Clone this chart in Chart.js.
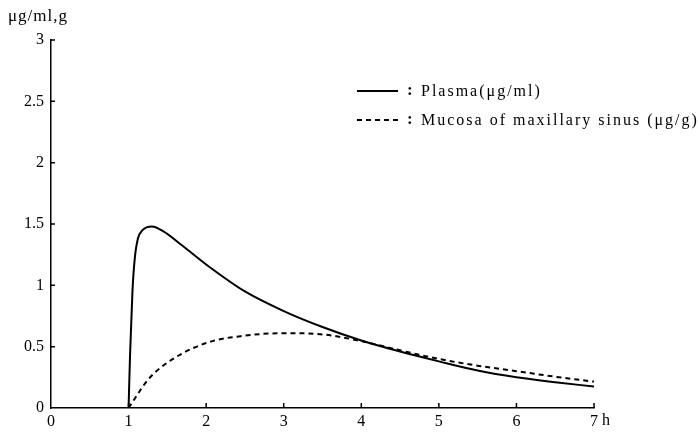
<!DOCTYPE html>
<html>
<head>
<meta charset="utf-8">
<script src="https://cdn.jsdelivr.net/npm/chart.js@4.4.1/dist/chart.umd.min.js"></script>
<style>
  html, body { margin: 0; padding: 0; background: #fff; }
  #wrap { width: 698px; height: 436px; }
</style>
</head>
<body>
<div id="wrap"><canvas id="grafico"></canvas></div>
<script>
// Dados (horas, concentração)
var plasmaX = [1, 1.02, 1.05, 1.08, 1.12, 1.18, 1.3, 1.45, 1.7, 2, 2.5, 3, 3.5, 4, 4.5, 5, 5.5, 6, 6.5, 7];
var plasmaY = [0, 0.45, 0.95, 1.22, 1.38, 1.45, 1.48, 1.44, 1.32, 1.17, 0.95, 0.79, 0.66, 0.55, 0.46, 0.38, 0.305, 0.25, 0.21, 0.175];
var mucosaX = [1, 1.25, 1.5, 2, 2.5, 3, 3.5, 4, 4.5, 5, 5.5, 6, 6.5, 7];
var mucosaY = [0, 0.23, 0.37, 0.53, 0.59, 0.61, 0.6, 0.545, 0.47, 0.40, 0.345, 0.30, 0.255, 0.215];
var xTicks = [0, 1, 2, 3, 4, 5, 6, 7];
var yTicks = [0, 0.5, 1, 1.5, 2, 2.5, 3];
var legendLabels = ['Plasma(μg/ml)', 'Mucosa of maxillary sinus (μg/g)'];
var yUnit = 'μg/ml,g';
var xUnit = 'h';

function pontos(xs, ys) {
  return xs.map(function (x, i) { return { x: x, y: ys[i] }; });
}

var serif = '"Liberation Serif", "DejaVu Serif", serif';

// Plugin: marcas internas dos eixos, legenda e unidades
var extras = {
  id: 'extras',
  afterDraw: function (chart) {
    var c = chart.ctx;
    var xs = chart.scales.x, ys = chart.scales.y;
    var area = chart.chartArea;
    c.save();
    c.strokeStyle = '#000';
    c.lineWidth = 1.5;
    c.beginPath();
    xTicks.forEach(function (t) {
      if (t === 0) return;
      var px = xs.getPixelForValue(t);
      c.moveTo(px, area.bottom);
      c.lineTo(px, area.bottom - 5);
    });
    yTicks.forEach(function (t) {
      if (t === 0) return;
      var py = ys.getPixelForValue(t);
      c.moveTo(area.left, py);
      c.lineTo(area.left + 4, py);
    });
    c.stroke();

    // unidades
    c.fillStyle = '#000';
    c.textBaseline = 'middle';
    c.textAlign = 'left';
    c.font = '17px ' + serif;
    c.letterSpacing = '1px';
    c.fillText(yUnit, 8, 17);
    c.letterSpacing = '0px';
    c.font = '16px ' + serif;
    c.fillText(xUnit, xs.getPixelForValue(7) + 8, 421);

    // legenda
    var ds = chart.data.datasets;
    var linhas = [91, 120];
    ds.forEach(function (d, i) {
      var y = linhas[i];
      c.beginPath();
      c.lineWidth = 2;
      c.setLineDash(d.borderDash || []);
      c.moveTo(357, y);
      c.lineTo(398, y);
      c.stroke();
      c.setLineDash([]);
      c.font = 'bold 17px ' + serif;
      c.fillText(':', 407, y);
      c.font = '16px ' + serif;
      c.letterSpacing = '2px';
      c.fillText(legendLabels[i], 421, y + 1);
      c.letterSpacing = '0px';
    });
    c.restore();
  }
};

var ctx = document.getElementById('grafico').getContext('2d');
var grafico = new Chart(ctx, {
  type: 'scatter',
  data: {
    datasets: [{
      label: legendLabels[0],
      data: pontos(plasmaX, plasmaY),
      showLine: true,
      borderColor: '#000',
      borderWidth: 2,
      pointRadius: 0,
      cubicInterpolationMode: 'monotone'
    }, {
      label: legendLabels[1],
      data: pontos(mucosaX, mucosaY),
      showLine: true,
      borderColor: '#000',
      borderWidth: 2,
      borderDash: [5, 4],
      pointRadius: 0,
      cubicInterpolationMode: 'monotone'
    }]
  },
  options: {
    responsive: true,
    maintainAspectRatio: false,
    animation: false,
    layout: { padding: { left: 0, right: 104, top: 40, bottom: 0 } },
    plugins: { legend: { display: false }, tooltip: { enabled: false } },
    scales: {
      x: {
        type: 'linear',
        min: 0,
        max: 7,
        afterBuildTicks: function (s) { s.ticks = xTicks.map(function (v) { return { value: v }; }); },
        afterFit: function (s) { s.height = 28; },
        grid: { drawOnChartArea: false, drawTicks: false },
        border: { color: '#000', width: 1.5 },
        ticks: {
          color: '#000', padding: 4, maxRotation: 0,
          font: { family: serif, size: 16 },
          callback: function (v) { return String(v); }
        }
      },
      y: {
        min: 0,
        max: 3,
        afterBuildTicks: function (s) { s.ticks = yTicks.map(function (v) { return { value: v }; }); },
        afterFit: function (s) { s.width = 51; },
        grid: { drawOnChartArea: false, drawTicks: false },
        border: { color: '#000', width: 1.5 },
        ticks: {
          color: '#000', padding: 7,
          font: { family: serif, size: 16 },
          callback: function (v) { return String(v); }
        }
      }
    }
  },
  plugins: [extras]
});
</script>
</body>
</html>
